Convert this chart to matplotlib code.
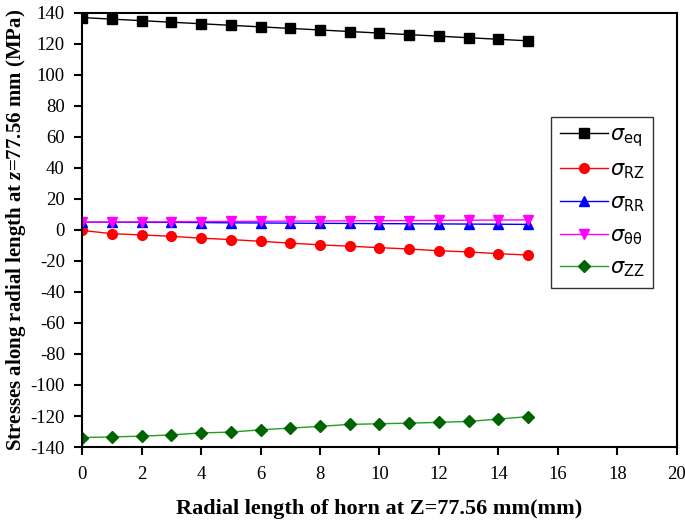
import numpy as np
import matplotlib.pyplot as plt

plt.rcParams['font.family'] = ['Liberation Serif', 'DejaVu Serif']
plt.rcParams['mathtext.fontset'] = 'custom'
plt.rcParams['mathtext.rm'] = 'Liberation Serif'
plt.rcParams['mathtext.it'] = 'Liberation Serif:italic'
plt.rcParams['mathtext.bf'] = 'Liberation Serif:bold'
plt.rcParams['mathtext.bfit'] = 'Liberation Serif:italic:bold'
plt.rcParams['axes.unicode_minus'] = False

# Radial positions (mm)
r = [0, 1, 2, 3, 4, 5, 6, 7, 8, 9, 10, 11, 12, 13, 14, 15]

# Stresses (MPa)
s_eq = [137, 136, 135, 134, 133, 132, 131, 130, 129, 128, 127, 126, 125, 124, 123, 122]
s_rz = [-0.3, -2.4, -3.2, -4.1, -5.3, -6.2, -7.3, -8.5, -9.6, -10.5, -11.4, -12.3, -13.4, -14.2, -15.3, -16.2]
s_rr = [5.0, 5.0, 4.9, 4.9, 4.8, 4.6, 4.5, 4.4, 4.3, 4.2, 4.1, 4.0, 3.9, 3.8, 3.7, 3.6]
s_tt = [5.0, 5.1, 5.2, 5.3, 5.4, 5.5, 5.6, 5.7, 5.8, 5.9, 6.0, 6.1, 6.2, 6.3, 6.4, 6.5]
s_zz = [-133.9, -133.5, -133.0, -132.2, -130.9, -130.4, -128.9, -127.8, -126.7, -125.4, -125.0, -124.6, -124.1, -123.5, -122.0, -120.4]

fig = plt.figure(figsize=(6.85, 5.23), dpi=100)
ax = fig.add_axes([0.12, 0.1453, 0.868, 0.830])

ms = 7
ax.plot(r, s_eq, color='black', marker='s', ms=ms, lw=1, label=r'$\sigma_{\rm eq}$')
ax.plot(r, s_rz, color='red', marker='o', ms=ms, lw=1, label=r'$\sigma_{\rm RZ}$')
ax.plot(r, s_rr, color='blue', marker='^', ms=ms, lw=1, label=r'$\sigma_{\rm RR}$')
ax.plot(r, s_tt, color='magenta', marker='v', ms=ms, lw=1, label=r'$\sigma_{\rm \theta\theta}$')
ax.plot(r, s_zz, color='#22a022', marker='D', ms=6.5, mfc='#006400', mec='#006400', lw=1,
        label=r'$\sigma_{\rm ZZ}$')

ax.set_xlim(0, 20)
ax.set_ylim(-140, 140)
ax.set_xticks(np.arange(0, 21, 2))
ax.set_yticks(np.arange(-140, 141, 20))
ax.tick_params(direction='out', length=5.5, width=1.5, labelsize=13.5, top=False, right=False)
ax.tick_params(axis='x', pad=8)
ax.tick_params(axis='y', pad=7)
for sp in ax.spines.values():
    sp.set_linewidth(1.5)

ax.set_xlabel('Radial length of horn at Z=77.56 mm(mm)', fontsize=16, fontweight='bold', labelpad=12)
ax.set_ylabel(r'Stresses along radial length at $\mathbfit{z}$=77.56 mm (MPa)', fontsize=15,
              fontweight='bold', labelpad=2)

leg = ax.legend(loc='upper right', bbox_to_anchor=(0.96, 0.76), borderaxespad=0, frameon=True,
                fancybox=False, edgecolor='black', fontsize=15, handlelength=2.3, borderpad=0.4,
                labelspacing=0.6, handletextpad=0.1)
leg.get_frame().set_linewidth(1.0)
for t in leg.get_texts():
    t.set_math_fontfamily('dejavusans')

fig.savefig('out.png', dpi=100)
